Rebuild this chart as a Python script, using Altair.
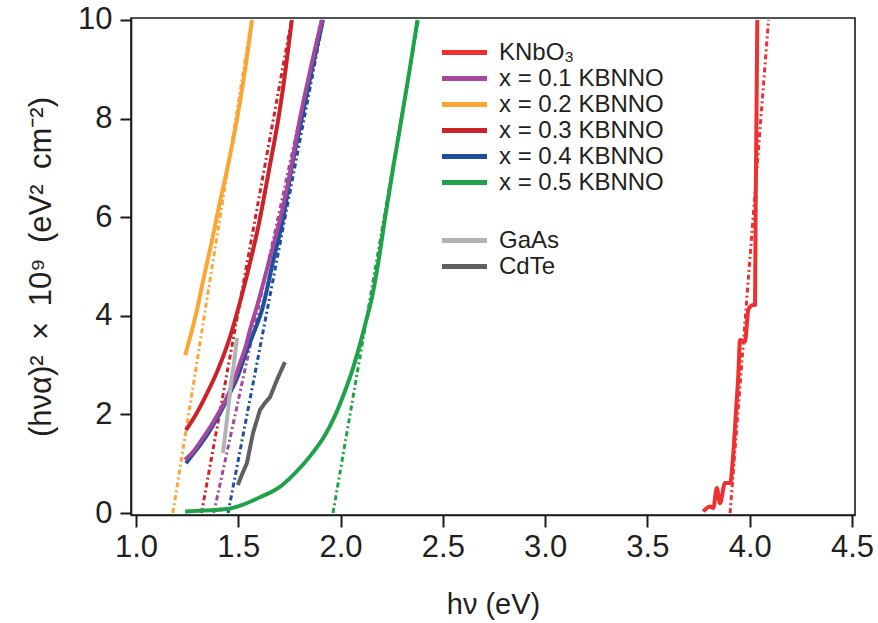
import altair as alt
import pandas as pd

# ---------------- data ----------------
series_names = ["KNbO₃", "x = 0.1 KBNNO", "x = 0.2 KBNNO",
                "x = 0.3 KBNNO", "x = 0.4 KBNNO", "x = 0.5 KBNNO"]
series_colors = ["#ee3130", "#a4489d", "#faa634", "#cc2229", "#1f4e9f", "#20a24b"]
ref_names = ["GaAs", "CdTe"]
ref_colors = ["#b1b3b4", "#5e6062"]

knbo3_x = [3.773, 3.79, 3.806, 3.822, 3.839, 3.855, 3.879, 3.904, 3.92, 3.932,
           3.944, 3.953, 3.977, 3.993, 4.001, 4.016, 4.026, 4.029, 4.033, 4.037]
knbo3_y = [0.03, 0.1, 0.13, 0.1, 0.51, 0.2, 0.61, 0.61, 1.22, 2.0,
           2.77, 3.51, 3.48, 4.12, 4.18, 4.22, 4.22, 6.15, 8.0, 10.0]

x01_x = [1.24, 1.279, 1.32, 1.362, 1.405, 1.445, 1.478, 1.508, 1.535, 1.557,
         1.596, 1.65, 1.718, 1.76, 1.80, 1.85, 1.909]
x01_y = [1.08, 1.24, 1.48, 1.74, 2.04, 2.35, 2.67, 3.04, 3.36, 3.71,
         4.26, 5.1, 6.2, 7.05, 7.97, 8.95, 10.0]

x02_x = [1.24, 1.27, 1.298, 1.33, 1.37, 1.41, 1.45, 1.49, 1.53, 1.567]
x02_y = [3.2, 3.65, 4.12, 4.75, 5.5, 6.3, 7.06, 7.9, 8.9, 10.0]

x03_x = [1.244, 1.30, 1.35, 1.40, 1.45, 1.50, 1.55, 1.60, 1.65, 1.70,
         1.73, 1.762]
x03_y = [1.68, 2.05, 2.45, 2.9, 3.45, 4.15, 4.95, 5.85, 6.95, 8.1,
         8.95, 10.0]

x04_x = [1.244, 1.28, 1.313, 1.35, 1.386, 1.42, 1.459, 1.50, 1.533, 1.575,
         1.616, 1.67, 1.72, 1.762, 1.81, 1.86, 1.914]
x04_y = [1.01, 1.2, 1.38, 1.6, 1.85, 2.1, 2.43, 2.8, 3.2, 3.65,
         4.12, 5.1, 6.0, 7.02, 8.0, 9.0, 10.0]

x05_x = [1.24, 1.33, 1.445, 1.508, 1.606, 1.70, 1.78, 1.86, 1.92, 1.97,
         2.01, 2.05, 2.09, 2.125, 2.155, 2.185, 2.218, 2.257, 2.298, 2.338, 2.376]
x05_y = [0.03, 0.05, 0.08, 0.15, 0.32, 0.52, 0.82, 1.2, 1.55, 1.95,
         2.35, 2.8, 3.35, 3.9, 4.4, 5.1, 6.0, 7.0, 8.0, 9.0, 10.0]

# linear fits: x where the fit crosses y = 0 and y = 10
fit_y = [0.0, 10.0]
fit_x_at_0 = [3.904, 1.38, 1.18, 1.32, 1.45, 1.963]
fit_x_at_10 = [4.092, 1.905, 1.565, 1.76, 1.915, 2.38]

gaas_x = [1.425, 1.445, 1.462, 1.478, 1.494]
gaas_y = [1.22, 1.9, 2.55, 3.0, 3.55]

cdte_x = [1.498, 1.52, 1.542, 1.572, 1.606, 1.63, 1.655, 1.689, 1.728]
cdte_y = [0.57, 0.8, 1.01, 1.62, 2.09, 2.23, 2.35, 2.7, 3.06]

x_ticks = [1.0, 1.5, 2.0, 2.5, 3.0, 3.5, 4.0, 4.5]
y_ticks = [0, 2, 4, 6, 8, 10]

# ---------------- tables ----------------
def rows(name, xs, ys):
    return [{"name": name, "x": a, "y": b, "i": k} for k, (a, b) in enumerate(zip(xs, ys))]

# draw order: blue under purple
measured = (rows(series_names[0], knbo3_x, knbo3_y) + rows(series_names[4], x04_x, x04_y)
            + rows(series_names[1], x01_x, x01_y) + rows(series_names[2], x02_x, x02_y)
            + rows(series_names[3], x03_x, x03_y) + rows(series_names[5], x05_x, x05_y))
df = pd.DataFrame(measured)

fits = []
for n, a, b in zip(series_names, fit_x_at_0, fit_x_at_10):
    fits += rows(n, [a, b], fit_y)
fit_df = pd.DataFrame(fits)

ref_df = pd.DataFrame(rows(ref_names[0], gaas_x, gaas_y) + rows(ref_names[1], cdte_x, cdte_y))

# ---------------- chart ----------------
FONT = "Liberation Sans"
INK = "#231f20"
SP = "\u2002"

x_enc = alt.X("x:Q",
              scale=alt.Scale(domain=[0.9756, 4.5147], nice=False, zero=False),
              axis=alt.Axis(values=x_ticks, format=".1f", title="hν (eV)",
                            titlePadding=28, titleFontSize=29))
y_enc = alt.Y("y:Q",
              scale=alt.Scale(domain=[-0.04, 10.04], nice=False, zero=False),
              axis=alt.Axis(values=y_ticks, format="d",
                            title=f"(hνα)²{SP}×{SP}10⁹{SP}(eV²{SP}cm⁻²)",
                            titleFontSize=31, titlePadding=20))

color_scale = alt.Scale(domain=series_names, range=series_colors)

legend_common = dict(title=None, orient="none", symbolType="M-1,0H8", symbolSize=100,
                     symbolStrokeWidth=5, labelFontSize=24, labelFont=FONT,
                     labelColor=INK, labelOffset=40, rowPadding=2, padding=0,
                     labelLimit=400)

fit_layer = alt.Chart(fit_df).mark_line(
    clip=True, strokeWidth=3, strokeDash=[5, 3, 2, 3]
).encode(
    x=x_enc, y=y_enc,
    color=alt.Color("name:N", scale=color_scale, legend=None),
    order="i:Q",
)

data_layer = alt.Chart(df).mark_line(
    clip=True, strokeWidth=4, strokeJoin="round", interpolate="monotone"
).encode(
    x=x_enc, y=y_enc,
    color=alt.Color("name:N", scale=color_scale,
                    legend=alt.Legend(legendX=304, legendY=22.5, **legend_common)),
    order="i:Q",
)

ref_layer = alt.Chart(ref_df).mark_line(
    clip=True, strokeWidth=4, strokeJoin="round"
).encode(
    x=x_enc, y=y_enc,
    stroke=alt.Stroke("name:N", scale=alt.Scale(domain=ref_names, range=ref_colors),
                      legend=alt.Legend(legendX=304, legendY=210.5, **legend_common)),
    order="i:Q",
)

chart = alt.layer(fit_layer, data_layer, ref_layer).resolve_scale(
    color="independent"
).properties(
    width=724, height=497,
    autosize=alt.AutoSizeParams(type="none"),
    padding={"left": 131, "top": 18, "right": 23, "bottom": 108},
    background="white",
).configure_view(
    stroke="#1a1a1a", strokeWidth=1.6
).configure_axis(
    grid=False,
    domainColor="#1a1a1a", domainWidth=1.6,
    tickColor="#1a1a1a", tickWidth=2,
    labelFont=FONT, labelFontSize=31, labelColor=INK,
    titleFont=FONT, titleColor=INK, titleFontWeight="normal",
).configure_axisX(
    tickSize=12, labelPadding=5,
).configure_axisY(
    tickSize=11, labelPadding=8,
)

chart.save("out.html", embed_options={"renderer": "svg", "actions": False})
